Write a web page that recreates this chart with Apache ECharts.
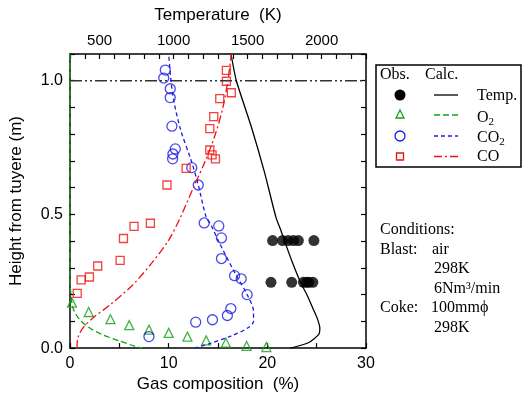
<!DOCTYPE html>
<html>
<head>
<meta charset="utf-8">
<script src="https://cdn.jsdelivr.net/npm/echarts@6/dist/echarts.min.js"></script>
<style>
  html, body { margin: 0; padding: 0; background: #fff; }
  #chart { width: 523px; height: 398px; }
</style>
</head>
<body>
<div id="chart"></div>
<script>
// calculated profiles: [value, height]
const tempCalc = [[1388, 1.1], [1424, 1.0], [1524, 0.83], [1613, 0.66], [1691, 0.49], [1725, 0.44], [1750, 0.40], [1803, 0.32], [1858, 0.245], [1903, 0.197], [1940, 0.15], [1970, 0.112], [1988, 0.075], [1981, 0.051], [1914, 0.021], [1792, 0.0]];
const o2Calc = [[0, 1.1], [0, 0.26], [0.1, 0.2], [0.3, 0.15], [0.9, 0.11], [2.0, 0.075], [3.3, 0.05], [5.0, 0.027], [6.5, 0.008], [7.3, 0.0]];
const co2Calc = [[12.6, 0], [14.0, 0.015], [16.3, 0.045], [18.0, 0.075], [18.6, 0.1], [18.6, 0.136], [18.0, 0.197], [16.7, 0.282], [15.0, 0.404], [14.3, 0.46], [13.8, 0.49], [13.0, 0.61], [12.3, 0.70], [11.2, 0.818], [10.4, 0.95], [10.0, 1.1]];
const coCalc = [[0.7, 0], [0.8, 0.039], [1.3, 0.075], [2.3, 0.112], [4.0, 0.16], [6.3, 0.234], [8.3, 0.319], [10.0, 0.404], [11.2, 0.49], [12.5, 0.6], [13.67, 0.696], [14.67, 0.793], [15.5, 0.9], [16.0, 1.0], [16.35, 1.1]];

// observed values: [value, height]
const tempObs = [[1669, 0.402], [1736, 0.402], [1774, 0.402], [1810, 0.402], [1843, 0.402], [1948, 0.402],
  [1658, 0.246], [1798, 0.246], [1877, 0.246], [1899, 0.246], [1914, 0.246], [1941, 0.246]];
const o2Obs = [[0.2, 0.17], [1.9, 0.135], [4.1, 0.108], [6.0, 0.086], [8.0, 0.069], [10.0, 0.057], [11.9, 0.043], [13.8, 0.029], [15.8, 0.02], [17.9, 0.008], [19.9, 0.004]];
const co2Obs = [[9.66, 1.04], [9.5, 1.01], [10.16, 0.97], [10.16, 0.937], [10.33, 0.83], [10.67, 0.745], [10.43, 0.726], [10.4, 0.708], [12.34, 0.675], [13.0, 0.61], [13.6, 0.468], [15.08, 0.457], [15.35, 0.412], [15.35, 0.335], [16.68, 0.271], [17.35, 0.259], [17.95, 0.2], [16.3, 0.148], [15.95, 0.122], [14.44, 0.106], [12.74, 0.097], [8.0, 0.043]];
const coObs = [[15.85, 1.039], [15.85, 0.998], [16.35, 0.955], [15.18, 0.933], [14.57, 0.866], [14.17, 0.821], [14.17, 0.741], [14.4, 0.723], [14.74, 0.708], [11.77, 0.672], [9.83, 0.61], [8.15, 0.467], [6.49, 0.455], [5.42, 0.41], [5.08, 0.328], [2.81, 0.307], [1.97, 0.266], [1.13, 0.255], [0.73, 0.205]];

const refLine = [[0, 1.0], [30, 1.0]];
const conditions = ['Conditions:', 'Blast:', 'air', '298K', '6Nm³/min', 'Coke:', '100mmϕ', '298K'];

const SANS = 'Liberation Sans, Arial, sans-serif';
const SERIF = 'Liberation Serif, Times New Roman, serif';
const GREEN = '#15a015';
const BLUE = '#1c1ce6';
const RED = '#f01010';

const chart = echarts.init(document.getElementById('chart'));

const axisLine = { show: true, onZero: false, lineStyle: { color: '#000', width: 1.5 } };
const axisTick = { show: true, inside: true, length: 5, lineStyle: { color: '#000', width: 1.2 } };

const serifText = (x, y, text) => ({
  type: 'text', x: x, y: y,
  style: { text: text, fontFamily: SERIF, fontSize: 16, fill: '#000', verticalAlign: 'middle' }
});
const subText = (x, y, base) => ({
  type: 'text', x: x, y: y,
  style: {
    text: '{a|' + base + '}{b|2}', verticalAlign: 'middle',
    rich: {
      a: { fontFamily: SERIF, fontSize: 16, fill: '#000' },
      b: { fontFamily: SERIF, fontSize: 11, fill: '#000', padding: [8, 0, 0, 0] }
    }
  }
});

const option = {
  animation: false,
  grid: { left: 67, right: 157, top: 54, bottom: 44 },
  xAxis: [
    {
      type: 'value', position: 'bottom', min: 0, max: 30, interval: 5,
      name: 'Gas composition  (%)', nameLocation: 'middle', nameGap: 21,
      nameTextStyle: { fontFamily: SANS, fontSize: 17, color: '#000' },
      axisLine: axisLine, axisTick: axisTick, splitLine: { show: false },
      axisLabel: {
        fontFamily: SANS, fontSize: 16, color: '#000', margin: 7,
        formatter: v => (v % 10 === 0 ? String(v) : '')
      }
    },
    {
      type: 'value', position: 'top', min: 300, max: 2300, interval: 100,
      name: 'Temperature  (K)', nameLocation: 'middle', nameGap: 30,
      nameTextStyle: { fontFamily: SANS, fontSize: 17, color: '#000' },
      axisLine: axisLine, axisTick: axisTick, splitLine: { show: false },
      axisLabel: {
        fontFamily: SANS, fontSize: 15, color: '#000', margin: 6,
        formatter: v => (v % 500 === 0 ? String(v) : '')
      }
    }
  ],
  yAxis: [
    {
      type: 'value', position: 'left', min: 0, max: 1.1, interval: 0.1,
      name: 'Height from tuyere (m)', nameLocation: 'middle', nameGap: 45,
      nameTextStyle: { fontFamily: SANS, fontSize: 17, color: '#000' },
      axisLine: axisLine, axisTick: axisTick, splitLine: { show: false },
      axisLabel: {
        fontFamily: SANS, fontSize: 16, color: '#000', margin: 7,
        formatter: v => {
          const r = Math.round(v * 2) / 2;
          return Math.abs(v - r) < 1e-6 ? r.toFixed(1) : '';
        }
      }
    },
    {
      type: 'value', position: 'right', min: 0, max: 1.1, interval: 0.1,
      axisLine: axisLine, axisTick: axisTick, splitLine: { show: false },
      axisLabel: { show: false }
    }
  ],
  series: [
    {
      type: 'line', data: refLine, symbol: 'none',
      lineStyle: { color: '#333', width: 1.5, type: [12, 3, 2, 3, 2, 3] }
    },
    {
      name: 'Temp.', type: 'line', xAxisIndex: 1, data: tempCalc, symbol: 'none', smooth: 0.2,
      lineStyle: { color: '#000', width: 1.3 }
    },
    {
      name: 'O2', type: 'line', data: o2Calc, symbol: 'none', smooth: 0.3,
      lineStyle: { color: GREEN, width: 1.3, type: [6, 3] }
    },
    {
      name: 'CO2', type: 'line', data: co2Calc, symbol: 'none', smooth: 0.3,
      lineStyle: { color: BLUE, width: 1.3, type: [4, 3] }
    },
    {
      name: 'CO', type: 'line', data: coCalc, symbol: 'none', smooth: 0.3,
      lineStyle: { color: RED, width: 1.3, type: [8, 3, 2, 3] }
    },
    {
      type: 'scatter', xAxisIndex: 1, data: tempObs, symbol: 'circle', symbolSize: 11,
      itemStyle: { color: '#000' }
    },
    {
      type: 'scatter', data: o2Obs, symbol: 'triangle', symbolSize: 9,
      itemStyle: { color: 'transparent', borderColor: GREEN, borderWidth: 1.3 }
    },
    {
      type: 'scatter', data: co2Obs, symbol: 'circle', symbolSize: 10,
      itemStyle: { color: 'transparent', borderColor: BLUE, borderWidth: 1.3 }
    },
    {
      type: 'scatter', data: coObs, symbol: 'rect', symbolSize: 8,
      itemStyle: { color: 'transparent', borderColor: RED, borderWidth: 1.3 }
    }
  ],
  graphic: [
    // legend box
    { type: 'rect', shape: { x: 376, y: 65, width: 145, height: 102 }, style: { fill: 'none', stroke: '#000', lineWidth: 1.5 } },
    serifText(380, 75, 'Obs.'),
    serifText(425, 75, 'Calc.'),
    { type: 'circle', shape: { cx: 400, cy: 95, r: 5.5 }, style: { fill: '#000' } },
    { type: 'line', shape: { x1: 434, y1: 95, x2: 458, y2: 95 }, style: { stroke: '#000', lineWidth: 1.3 } },
    serifText(477, 96, 'Temp.'),
    { type: 'polygon', shape: { points: [[400, 110], [404, 118], [396, 118]] }, style: { fill: 'none', stroke: GREEN, lineWidth: 1.3 } },
    { type: 'line', shape: { x1: 434, y1: 115, x2: 458, y2: 115 }, style: { stroke: GREEN, lineWidth: 1.3, lineDash: [6, 3] } },
    subText(477, 118, 'O'),
    { type: 'circle', shape: { cx: 400, cy: 136, r: 5 }, style: { fill: 'none', stroke: BLUE, lineWidth: 1.3 } },
    { type: 'line', shape: { x1: 434, y1: 136, x2: 458, y2: 136 }, style: { stroke: BLUE, lineWidth: 1.3, lineDash: [4, 3] } },
    subText(477, 138, 'CO'),
    { type: 'rect', shape: { x: 396.5, y: 153, width: 7, height: 7 }, style: { fill: 'none', stroke: RED, lineWidth: 1.3 } },
    { type: 'line', shape: { x1: 434, y1: 156.5, x2: 458, y2: 156.5 }, style: { stroke: RED, lineWidth: 1.3, lineDash: [8, 3, 2, 3] } },
    serifText(477, 157, 'CO'),
    // conditions
    serifText(380, 230, conditions[0]),
    serifText(380, 250, conditions[1]),
    serifText(432, 250, conditions[2]),
    serifText(434, 269, conditions[3]),
    serifText(434, 288.5, conditions[4]),
    serifText(380, 308, conditions[5]),
    serifText(431, 308, conditions[6]),
    serifText(434, 327.5, conditions[7])
  ]
};

chart.setOption(option);
</script>
</body>
</html>
